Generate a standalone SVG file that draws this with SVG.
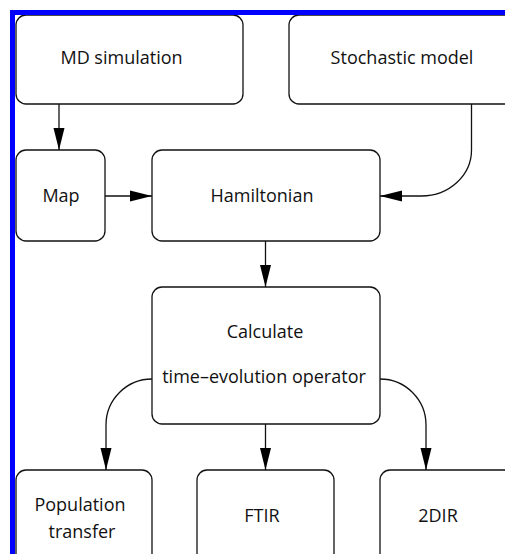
<svg xmlns="http://www.w3.org/2000/svg" width="505" height="554" viewBox="0 0 505 554">
<defs>
<style>
.box{fill:#fff;stroke:#111;stroke-width:1.3}
.lbl{font-family:"Open Sans","Liberation Sans",sans-serif;font-size:18px;fill:#111;text-anchor:middle}
.con{fill:none;stroke:#111;stroke-width:1.3}
</style>
<marker id="ah" markerUnits="userSpaceOnUse" markerWidth="22" markerHeight="12" viewBox="0 0 20 10" refX="20" refY="5" orient="auto">
<path d="M0,0 L20,5 L0,10 Z" fill="#000"/>
</marker>
</defs>
<rect width="505" height="554" fill="#fff"/>
<g id="md"><rect class="box" x="16" y="15" width="227" height="89" rx="10"/><text class="lbl" x="121.5" y="64">MD simulation</text></g>
<g id="stochastic"><rect class="box" x="289" y="15" width="240" height="89" rx="10"/><text class="lbl" x="402" y="64">Stochastic model</text></g>
<g id="map"><rect class="box" x="16" y="150" width="89" height="91" rx="10"/><text class="lbl" x="61" y="202">Map</text></g>
<g id="hamiltonian"><rect class="box" x="152" y="150" width="228" height="91" rx="10"/><text class="lbl" x="262" y="202">Hamiltonian</text></g>
<g id="calculate"><rect class="box" x="152" y="287" width="228" height="137" rx="10"/><text class="lbl" x="265" y="338">Calculate</text><text class="lbl" x="264" y="383">time–evolution operator</text></g>
<g id="population"><rect class="box" x="16" y="470" width="136" height="100" rx="10"/><text class="lbl" x="80" y="511">Population</text><text class="lbl" x="82" y="538">transfer</text></g>
<g id="ftir"><rect class="box" x="197" y="470" width="137" height="100" rx="10"/><text class="lbl" x="262" y="522">FTIR</text></g>
<g id="twodir"><rect class="box" x="380" y="470" width="150" height="100" rx="10"/><text class="lbl" x="438" y="522">2DIR</text></g>
<g id="connectors">
<path class="con" marker-end="url(#ah)" d="M59,104 V150"/>
<path class="con" marker-end="url(#ah)" d="M471.5,104 V150 A50,46 0 0 1 421.5,196 H380"/>
<path class="con" marker-end="url(#ah)" d="M105,196 H152"/>
<path class="con" marker-end="url(#ah)" d="M265.5,241 V287"/>
<path class="con" marker-end="url(#ah)" d="M152,379 A46,46 0 0 0 106,425 V470"/>
<path class="con" marker-end="url(#ah)" d="M265.5,424 V470"/>
<path class="con" marker-end="url(#ah)" d="M380,379 A46,46 0 0 1 426,425 V470"/>
</g>
<path d="M12.5,560 V12.5 H510" fill="none" stroke="#0000ff" stroke-width="5"/>
</svg>
